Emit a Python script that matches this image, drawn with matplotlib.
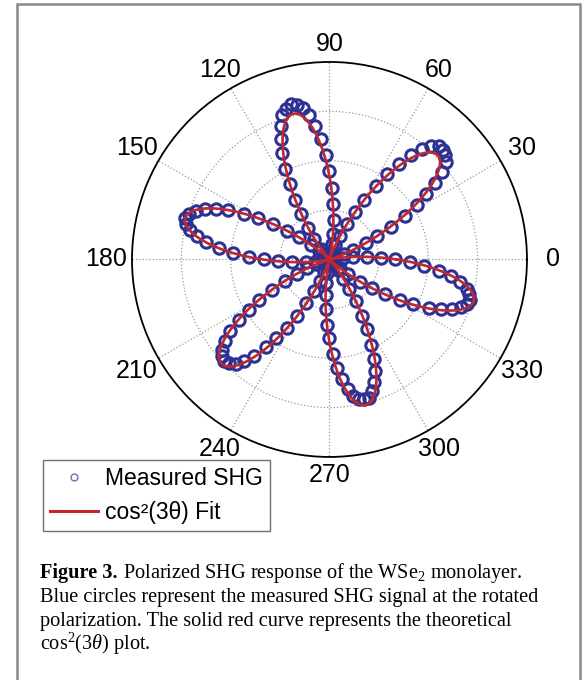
import numpy as np
import matplotlib
matplotlib.use("Agg")
from matplotlib import pyplot as plt
from matplotlib.lines import Line2D
from matplotlib.patches import Rectangle

# angulo de polarizacao (graus) e sinal SHG medido
theta_deg = np.arange(0, 360, 2)
shg = [
    # 0-12
    0.33, 0.26, 0.19, 0.12, 0.07, 0.03, 0.01,
    # 14-72
    0.00, 0.01, 0.03, 0.08, 0.13, 0.20, 0.27, 0.35, 0.44, 0.52,
    0.59, 0.66, 0.72, 0.77, 0.79, 0.80, 0.80, 0.77, 0.73, 0.67,
    0.60, 0.52, 0.44, 0.35, 0.27, 0.20, 0.13, 0.08, 0.03, 0.01,
    # 74-132
    0.00, 0.01, 0.03, 0.08, 0.13, 0.20, 0.28, 0.36, 0.45, 0.53,
    0.61, 0.68, 0.74, 0.78, 0.80, 0.81, 0.79, 0.77, 0.72, 0.66,
    0.59, 0.51, 0.43, 0.35, 0.27, 0.19, 0.13, 0.07, 0.03, 0.01,
    # 134-192
    0.00, 0.01, 0.03, 0.07, 0.12, 0.19, 0.26, 0.34, 0.42, 0.49,
    0.57, 0.63, 0.68, 0.72, 0.75, 0.76, 0.75, 0.72, 0.68, 0.63,
    0.56, 0.49, 0.41, 0.33, 0.26, 0.19, 0.12, 0.07, 0.03, 0.01,
    # 194-252
    0.00, 0.01, 0.03, 0.07, 0.12, 0.18, 0.25, 0.33, 0.41, 0.48,
    0.55, 0.62, 0.67, 0.71, 0.73, 0.74, 0.73, 0.71, 0.67, 0.62,
    0.55, 0.48, 0.41, 0.33, 0.25, 0.18, 0.12, 0.07, 0.03, 0.01,
    # 254-312
    0.00, 0.01, 0.03, 0.07, 0.12, 0.18, 0.25, 0.33, 0.40, 0.48,
    0.55, 0.61, 0.66, 0.70, 0.72, 0.73, 0.73, 0.70, 0.66, 0.61,
    0.55, 0.48, 0.40, 0.33, 0.25, 0.18, 0.12, 0.07, 0.03, 0.01,
    # 314-358
    0.00, 0.01, 0.03, 0.07, 0.12, 0.19, 0.26, 0.33, 0.41, 0.48,
    0.56, 0.62, 0.67, 0.71, 0.73, 0.74, 0.73, 0.71, 0.67, 0.62,
    0.56, 0.48, 0.41,
]

# parametros do ajuste cos^2(3*theta)
fit_amp = 0.76
fit_phase = 44.0

spoke_angles = np.arange(0, 360, 30)
spoke_labels = ["0", "30", "60", "90", "120", "150",
                "180", "210", "240", "270", "300", "330"]
ring_radii = [0.25, 0.5, 0.75]

legend_labels = ["Measured SHG", "cos\u00b2(3\u03b8) Fit"]

caption_bold = "Figure 3."
caption = [
    r" Polarized SHG response of the WSe$_2$ monolayer.",
    "Blue circles represent the measured SHG signal at the rotated",
    "polarization. The solid red curve represents the theoretical",
    r"cos$^2$(3$\theta$) plot.",
]

plt.rcParams["mathtext.fontset"] = "custom"
plt.rcParams["mathtext.rm"] = "Liberation Serif"
plt.rcParams["mathtext.bf"] = "Liberation Serif:bold"
plt.rcParams["mathtext.it"] = "Liberation Serif:italic"

blue = "#2e3192"
red = "#c1272d"


def main():
    fig = plt.figure(figsize=(5.85, 6.8), dpi=100)
    ax = fig.add_axes([0.2256, 0.328, 0.6752, 0.5809], projection="polar")

    th = np.deg2rad(theta_deg)
    ax.plot(th, shg, ls="none", marker="o", ms=8.2, mfc="none",
            mec=blue, mew=2.2, zorder=3)

    fit_t = np.linspace(0, 2 * np.pi, 1441)
    fit_r = fit_amp * np.cos(3 * (fit_t - np.deg2rad(fit_phase))) ** 2
    ax.plot(fit_t, fit_r, color=red, lw=1.9, zorder=4)

    ax.set_ylim(0, 1)
    ax.set_yticks(ring_radii)
    ax.set_yticklabels([])
    ax.set_xticks(np.deg2rad(spoke_angles))
    ax.set_xticklabels([])
    ax.grid(True, color="#9a9a9a", ls=":", lw=0.9)
    ax.spines["polar"].set_color("black")
    ax.spines["polar"].set_linewidth(1.3)
    ax.tick_params(length=0)

    for ang, lab in zip(spoke_angles, spoke_labels):
        a = np.deg2rad(ang)
        rr = 1.09 + 0.04 * abs(np.cos(a))
        ax.text(a, rr, lab, ha="center", va="center",
                fontsize=18, family="Liberation Sans", clip_on=False)

    handles = [
        Line2D([], [], ls="none", marker="o", ms=5, mfc="none",
               mec="#6b70b8", mew=1.0),
        Line2D([], [], color=red, lw=2.2),
    ]
    fig.legend(handles, legend_labels, loc="lower left",
               bbox_to_anchor=(0.0735, 0.219), borderaxespad=0,
               prop={"family": "Liberation Sans", "size": 16.5},
               frameon=True, fancybox=False, edgecolor="#707070",
               framealpha=1, handlelength=2.1, handletextpad=0.3,
               labelspacing=0.5, borderpad=0.3)

    # moldura da figura
    fig.patches.append(Rectangle((16.5 / 585, -0.02), 563 / 585, 1.0 - 3.5 / 680 + 0.02,
                                 transform=fig.transFigure, fill=False,
                                 edgecolor="#888888", lw=1.8))

    baselines = [578, 602, 626, 650]
    x0 = 40 / 585
    fs = 14.6
    tb = fig.text(x0, 1 - baselines[0] / 680, caption_bold, ha="left",
                  va="baseline", fontsize=fs, family="Liberation Serif",
                  weight="bold")
    fig.canvas.draw()
    bb = tb.get_window_extent(renderer=fig.canvas.get_renderer())
    x_after = bb.x1 / fig.bbox.width
    for i, (txt, yb) in enumerate(zip(caption, baselines)):
        fig.text(x_after if i == 0 else x0, 1 - yb / 680, txt, ha="left",
                 va="baseline", fontsize=fs, family="Liberation Serif")

    fig.savefig("out.png", dpi=100)


if __name__ == "__main__":
    main()
